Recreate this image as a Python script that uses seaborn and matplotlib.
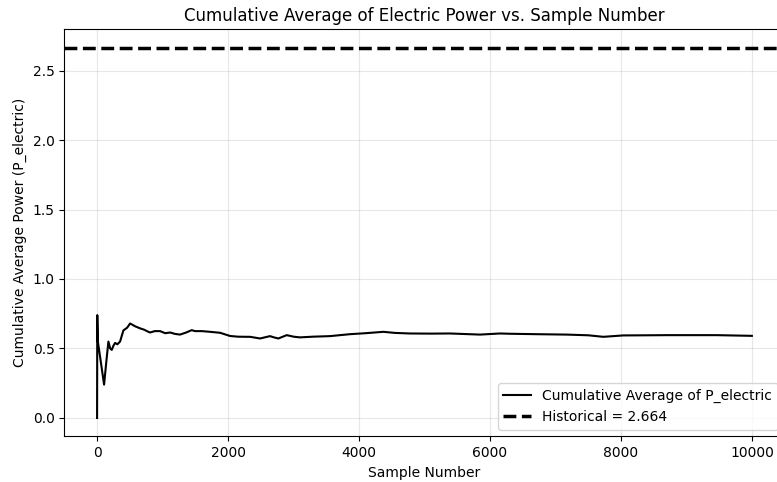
import numpy as np
import pandas as pd
import seaborn as sns
import matplotlib.pyplot as plt

# cumulative average (sample number, value)
samples = [0, 3, 12, 46, 107, 140, 173, 200, 224, 250, 275, 310, 351, 402, 460, 504,
           580, 656, 720, 783, 809, 880, 962, 1040, 1115, 1190, 1267, 1360, 1445, 1496,
           1600, 1725, 1878, 2031, 2150, 2285, 2336, 2489, 2560, 2641, 2700, 2768,
           2896, 3000, 3099, 3300, 3557, 3863, 4100, 4372, 4550, 4779, 5100, 5389,
           5847, 6153, 6305, 6700, 7171, 7500, 7730, 8036, 8400, 8697, 9100, 9461, 9999]
cum_avg = [0.0, 0.74, 0.55, 0.44, 0.24, 0.40, 0.55, 0.50, 0.49, 0.52, 0.54, 0.53, 0.55,
           0.63, 0.65, 0.68, 0.66, 0.645, 0.635, 0.62, 0.615, 0.625, 0.625, 0.61, 0.615,
           0.605, 0.60, 0.615, 0.632, 0.625, 0.625, 0.62, 0.613, 0.59, 0.585, 0.584,
           0.584, 0.572, 0.58, 0.589, 0.58, 0.572, 0.596, 0.585, 0.58, 0.585, 0.589,
           0.603, 0.61, 0.62, 0.612, 0.608, 0.607, 0.608, 0.60, 0.608, 0.606, 0.603,
           0.60, 0.595, 0.584, 0.594, 0.595, 0.596, 0.596, 0.596, 0.591]
historical = 2.664

df = pd.DataFrame({"sample": samples, "cum_avg": cum_avg})

fig = plt.figure(figsize=(7.77, 4.82), dpi=100)
ax = fig.add_axes([0.0828, 0.0944, 0.927, 0.845])

sns.lineplot(data=df, x="sample", y="cum_avg", ax=ax, color="black", linewidth=1.5,
             label="Cumulative Average of P_electric")
ax.axhline(historical, color="black", linestyle="--", linewidth=2.5,
           label=f"Historical = {historical}")

ax.set_xlim(-500, 10499)
ax.set_ylim(-0.1332, 2.7972)
ax.grid(True, alpha=0.3)
ax.set_title("Cumulative Average of Electric Power vs. Sample Number", fontsize=12)
ax.set_xlabel("Sample Number")
ax.set_ylabel("Cumulative Average Power (P_electric)")
ax.legend(loc="lower right")

plt.savefig("out.png", dpi=100)
plt.close()
